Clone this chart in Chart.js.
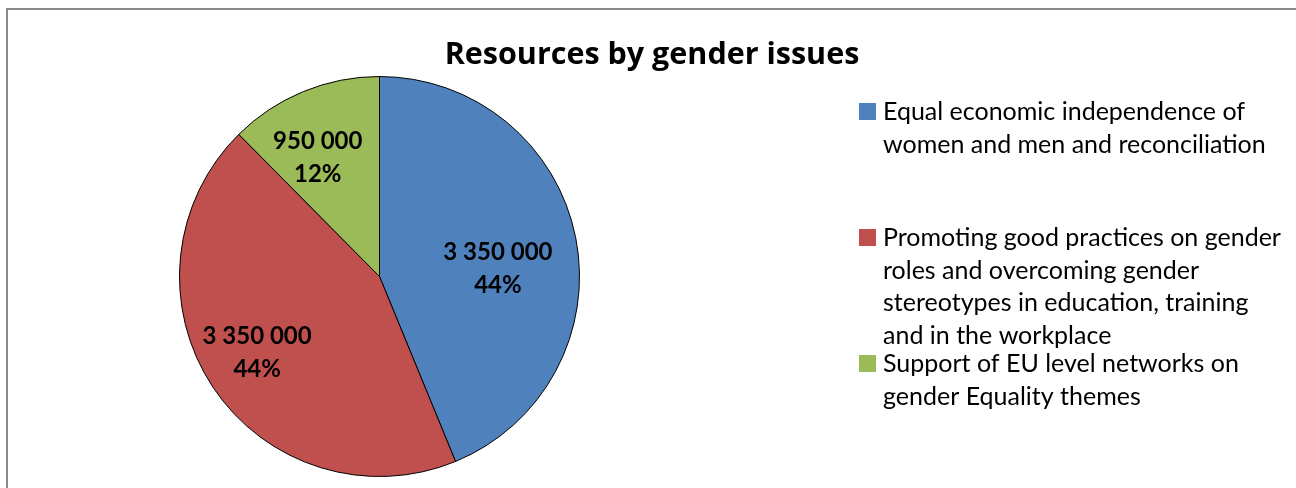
<!DOCTYPE html>
<html>
<head>
<meta charset="utf-8">
<script src="https://cdn.jsdelivr.net/npm/chart.js"></script>
<style>
  html, body { margin: 0; padding: 0; background: #fff; overflow: hidden; }
  #wrap { position: relative; width: 1296px; height: 488px; }
  #frame { position: absolute; left: 6px; top: 8px; width: 1400px; height: 600px; border: 2px solid #8a8a8a; box-sizing: border-box; }
  canvas { position: absolute; left: 0; top: 0; }
</style>
</head>
<body>
<div id="wrap">
  <div id="frame"></div>
  <canvas id="pie" width="1296" height="488"></canvas>
</div>
<script>
// datos
const categories = [
  'Equal economic independence of women and men and reconciliation',
  'Promoting good practices on gender roles and overcoming gender stereotypes in education, training and in the workplace',
  'Support of EU level networks on gender Equality themes'
];
// mismas etiquetas, cortadas como en la leyenda original
const legendLines = [
  ['Equal economic independence of', 'women and men and reconciliation'],
  ['Promoting good practices on gender', 'roles and overcoming gender', 'stereotypes in education, training', 'and in the workplace'],
  ['Support of EU level networks on', 'gender Equality themes']
];
const values = [3350000, 3350000, 950000];
const colors = ['#4F81BD', '#C0504D', '#9BBB59'];
const titleText = 'Resources by gender issues';

const FONT = 'Lato, "Open Sans", sans-serif';
const TITLE_FONT = '"Open Sans", Lato, sans-serif';

// ajuste fino de las etiquetas (px) sobre el punto medio de cada sector
const labelNudge = [[-15, 18], [-9, 0], [-10, 6]];

function fmt(n) {
  return String(n).replace(/\B(?=(\d{3})+(?!\d))/g, ' ');
}

// título, etiquetas de datos y leyenda dibujados a mano
const decor = {
  id: 'decor',
  afterDatasetsDraw(chart) {
    const ctx = chart.ctx;
    const meta = chart.getDatasetMeta(0);
    const total = values.reduce((a, b) => a + b, 0);
    ctx.save();
    ctx.fillStyle = '#000';
    ctx.textAlign = 'center';
    ctx.textBaseline = 'alphabetic';
    ctx.font = 'bold 24px ' + FONT;
    meta.data.forEach((arc, i) => {
      const p = arc.getProps(['x', 'y', 'startAngle', 'endAngle', 'outerRadius'], true);
      const mid = (p.startAngle + p.endAngle) / 2;
      const r = p.outerRadius * 0.68;
      const cx = p.x + Math.cos(mid) * r + labelNudge[i][0];
      const cy = p.y + Math.sin(mid) * r + labelNudge[i][1];
      const pct = Math.round(values[i] * 100 / total) + '%';
      ctx.fillText(fmt(values[i]), cx, cy - 8);
      ctx.fillText(pct, cx, cy + 25);
    });

    // título: tamaño ajustado al ancho del original (~419px)
    let size = 40;
    ctx.font = `bold ${size}px ${TITLE_FONT}`;
    while (size > 18 && ctx.measureText(titleText).width > 419) {
      size -= 0.5;
      ctx.font = `bold ${size}px ${TITLE_FONT}`;
    }
    ctx.fillText(titleText, 652, 64);

    // leyenda
    ctx.textAlign = 'left';
    ctx.font = '25px ' + FONT;
    legendLines.forEach((lines, i) => {
      const base = 120 + 126 * i;
      ctx.fillStyle = colors[i];
      ctx.fillRect(859, base - 17, 17, 17);
      ctx.fillStyle = '#000';
      lines.forEach((t, j) => ctx.fillText(t, 883, base + j * 32.5));
    });
    ctx.restore();
  }
};

new Chart(document.getElementById('pie'), {
  type: 'pie',
  data: {
    labels: categories,
    datasets: [{
      data: values,
      backgroundColor: colors,
      borderColor: '#000',
      borderWidth: 1,
      radius: 200
    }]
  },
  options: {
    responsive: false,
    animation: false,
    devicePixelRatio: 1,
    layout: { padding: { left: 179, right: 716, top: 76, bottom: 11 } },
    plugins: {
      legend: { display: false },
      title: { display: false },
      tooltip: { enabled: false }
    }
  },
  plugins: [decor]
});
</script>
</body>
</html>
